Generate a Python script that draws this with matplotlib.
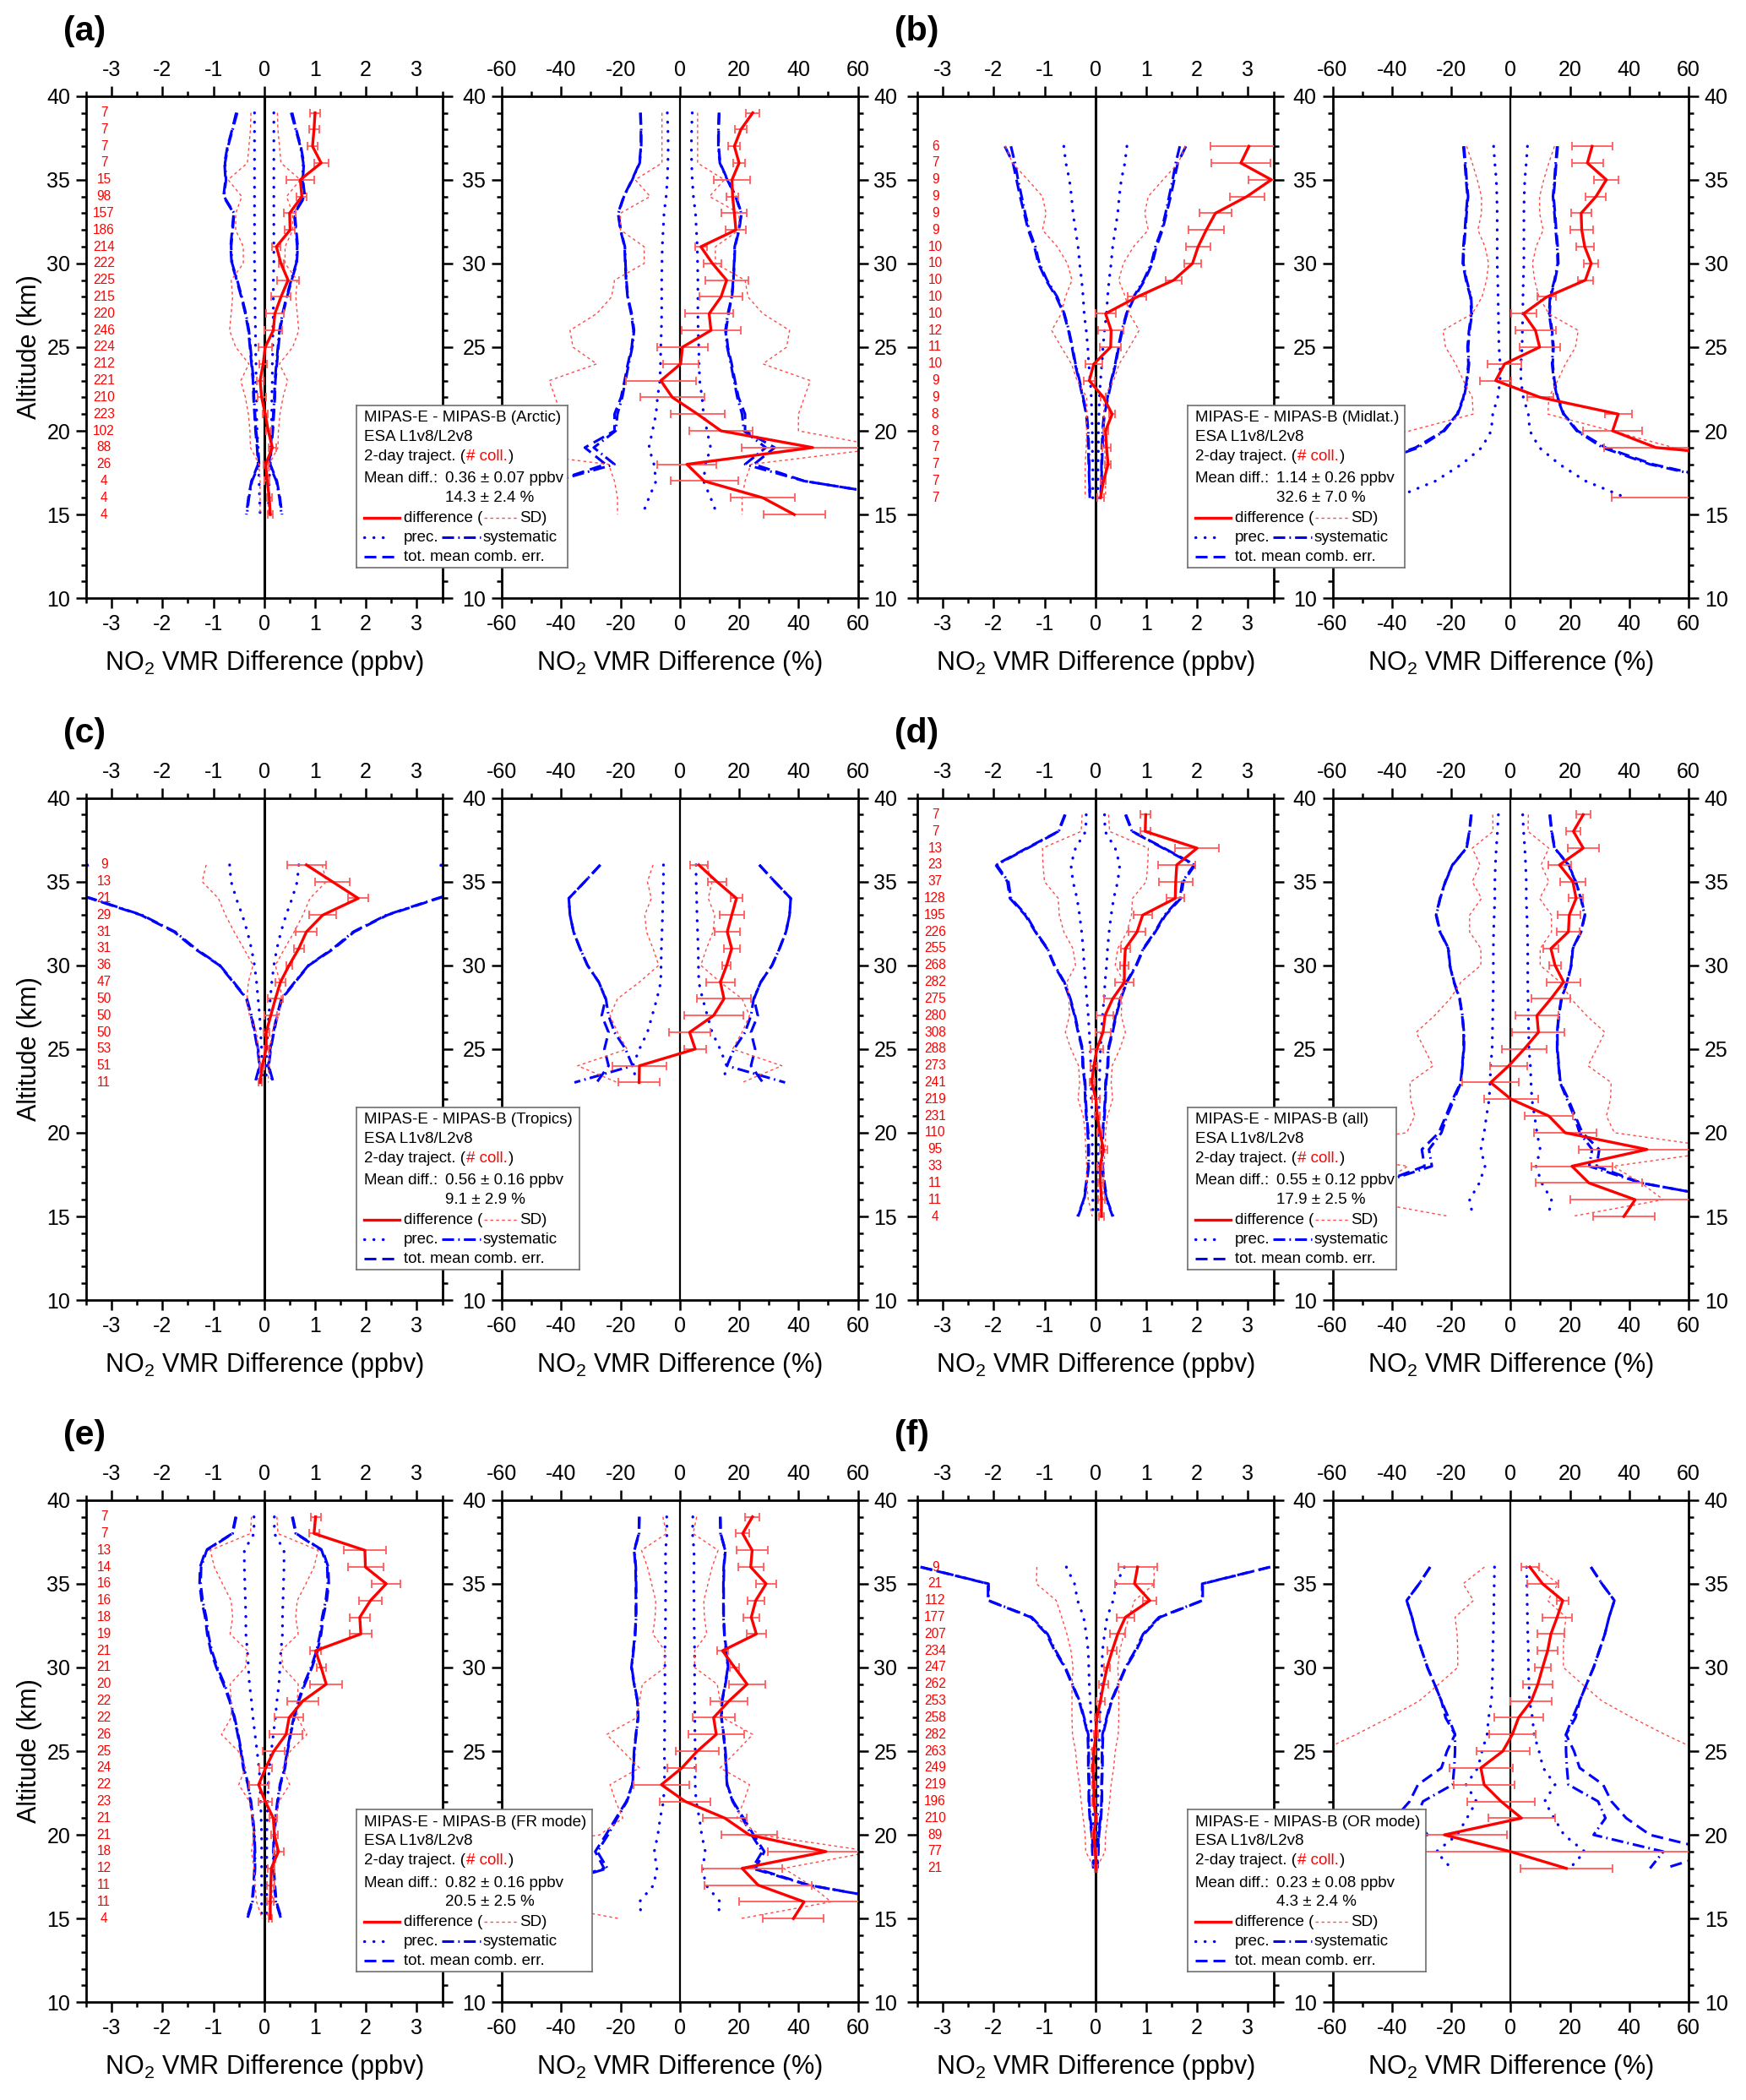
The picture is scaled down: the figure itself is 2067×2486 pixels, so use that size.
import numpy as np
import matplotlib
matplotlib.use("Agg")
import matplotlib.pyplot as plt
from matplotlib.ticker import MultipleLocator

plt.rcParams["font.family"] = ["Liberation Sans", "DejaVu Sans"]
plt.rcParams["mathtext.default"] = "regular"
plt.rcParams["axes.unicode_minus"] = False

W, H, DPI = 2067, 2486, 100

# ---------------- (a) Arctic ----------------
alt_a = [39, 38, 37, 36, 35, 34, 33, 32, 31, 30, 29, 28, 27, 26, 25, 24, 23, 22, 21, 20, 19, 18, 17, 16, 15]
n_a = [7, 7, 7, 7, 15, 98, 157, 186, 214, 222, 225, 215, 220, 246, 224, 212, 221, 210, 223, 102, 88, 26, 4, 4, 4]
diff_ppbv_a = [1.00, 0.98, 0.95, 1.12, 0.71, 0.74, 0.50, 0.51, 0.24, 0.33, 0.47, 0.33, 0.21, 0.18, 0.02, -0.02, -0.08, -0.05, 0.02, 0.08, 0.16, 0.03, 0.06, 0.10, 0.12]
err_ppbv_a = [0.10, 0.10, 0.10, 0.14, 0.27, 0.10, 0.12, 0.10, 0.08, 0.05, 0.21, 0.19, 0.18, 0.18, 0.13, 0.07, 0.06, 0.08, 0.05, 0.05, 0.08, 0.05, 0.05, 0.05, 0.05]
sd_ppbv_a = [0.26, 0.27, 0.30, 0.33, 0.71, 0.44, 0.56, 0.56, 0.41, 0.41, 0.65, 0.62, 0.65, 0.68, 0.56, 0.30, 0.46, 0.37, 0.31, 0.28, 0.27, 0.10, 0.08, 0.08, 0.08]
prec_ppbv_a = [0.19, 0.19, 0.19, 0.19, 0.19, 0.19, 0.19, 0.19, 0.19, 0.19, 0.18, 0.18, 0.18, 0.17, 0.17, 0.16, 0.16, 0.15, 0.15, 0.14, 0.12, 0.11, 0.10, 0.09, 0.08]
sys_ppbv_a = [0.53, 0.62, 0.71, 0.77, 0.75, 0.79, 0.59, 0.62, 0.65, 0.63, 0.53, 0.44, 0.36, 0.30, 0.27, 0.24, 0.21, 0.20, 0.18, 0.16, 0.12, 0.10, 0.24, 0.30, 0.34]
tot_ppbv_a = [0.55, 0.63, 0.72, 0.78, 0.76, 0.80, 0.60, 0.63, 0.66, 0.64, 0.54, 0.45, 0.37, 0.31, 0.28, 0.25, 0.22, 0.21, 0.19, 0.17, 0.14, 0.12, 0.25, 0.31, 0.35]
diff_pct_a = [24.6, 20.6, 18.4, 20.0, 17.6, 17.8, 18.4, 18.9, 7.1, 11.0, 15.8, 13.9, 9.9, 10.5, 0.9, 0.3, -6.4, -2.5, 6.0, 13.9, 44.8, 2.4, 8.2, 28.0, 38.6]
err_pct_a = [2.3, 2.0, 2.0, 2.0, 6.2, 2.0, 4.3, 3.5, 2.0, 3.0, 7.2, 7.3, 8.0, 10.0, 8.6, 6.0, 11.8, 10.7, 9.1, 10.7, 24.0, 9.9, 11.4, 10.9, 10.4]
sd_pct_a = [6, 6, 6, 6, 15, 10, 20, 20, 12, 12, 22, 23, 28, 37, 36, 28, 44, 42, 40, 40, 70, 24, 22, 21, 21]
prec_pct_a = [4.2, 4.0, 3.9, 4.0, 4.2, 4.6, 5.3, 5.6, 5.9, 6.0, 6.1, 6.1, 6.1, 6.2, 6.4, 6.5, 6.7, 7.5, 8.0, 9.2, 10.4, 8.7, 8.0, 10.4, 12.6]
sys_pct_a = [13.2, 13.0, 13.0, 13.5, 16.0, 18.8, 20.7, 19.9, 18.5, 18.3, 18.0, 17.5, 16.2, 15.4, 16.0, 17.2, 18.3, 19.4, 21.0, 21.6, 29.0, 22.0, 42.0, 77.0, 95.0]
tot_pct_a = [13.3, 13.1, 13.1, 13.6, 16.1, 18.9, 20.8, 20.0, 18.6, 18.4, 18.1, 17.6, 16.4, 15.6, 16.2, 17.5, 18.6, 19.8, 22.0, 22.0, 32.0, 25.0, 42.0, 77.0, 95.0]

# ---------------- (b) Midlatitudes ----------------
alt_b = [37, 36, 35, 34, 33, 32, 31, 30, 29, 28, 27, 26, 25, 24, 23, 22, 21, 20, 19, 18, 17, 16]
n_b = [6, 7, 9, 9, 9, 9, 10, 10, 10, 10, 10, 12, 11, 10, 9, 9, 8, 8, 7, 7, 7, 7]
diff_ppbv_b = [3.02, 2.86, 3.46, 2.98, 2.36, 2.18, 2.02, 1.91, 1.54, 0.82, 0.20, 0.31, 0.30, -0.03, -0.12, 0.16, 0.33, 0.20, 0.22, 0.25, 0.16, 0.10]
err_ppbv_b = [0.75, 0.58, 0.45, 0.34, 0.32, 0.35, 0.24, 0.17, 0.15, 0.18, 0.20, 0.25, 0.21, 0.17, 0.11, 0.05, 0.06, 0.05, 0.08, 0.06, 0.05, 0.07]
sd_ppbv_b = [1.77, 1.63, 1.33, 1.04, 0.97, 1.04, 0.75, 0.55, 0.46, 0.59, 0.67, 0.86, 0.67, 0.47, 0.36, 0.17, 0.17, 0.17, 0.18, 0.20, 0.20, 0.20]
prec_ppbv_b = [0.62, 0.58, 0.51, 0.47, 0.44, 0.39, 0.34, 0.31, 0.27, 0.24, 0.22, 0.18, 0.15, 0.13, 0.10, 0.08, 0.07, 0.06, 0.06, 0.05, 0.05, 0.05]
sys_ppbv_b = [1.66, 1.58, 1.52, 1.45, 1.38, 1.30, 1.18, 1.10, 0.95, 0.75, 0.61, 0.52, 0.45, 0.39, 0.31, 0.24, 0.17, 0.14, 0.13, 0.12, 0.12, 0.10]
tot_ppbv_b = [1.78, 1.62, 1.55, 1.48, 1.40, 1.32, 1.20, 1.12, 0.97, 0.77, 0.62, 0.53, 0.46, 0.40, 0.32, 0.25, 0.18, 0.15, 0.14, 0.13, 0.12, 0.11]
diff_pct_b = [27.5, 25.9, 32.3, 28.8, 23.8, 24.0, 25.0, 27.2, 25.2, 12.2, 4.4, 8.4, 9.8, -2.0, -5.0, 10.0, 36.3, 34.4, 49.0, 110.0, 95.0, 70.0]
err_pct_b = [6.8, 5.3, 4.2, 3.4, 3.4, 3.9, 3.0, 2.4, 2.5, 3.1, 4.3, 6.8, 6.8, 5.7, 5.3, 4.4, 4.6, 10.0, 17.4, 30.0, 30.0, 36.0]
sd_pct_b = [14.8, 12.9, 11.2, 9.8, 9.8, 11.0, 8.6, 7.4, 8.1, 9.6, 12.9, 22.8, 21.9, 18.5, 15.9, 12.9, 12.6, 34.0, 55.0, 75.0, 80.0, 80.0]
prec_pct_b = [5.7, 5.3, 4.8, 4.6, 4.5, 4.5, 4.5, 4.5, 4.3, 4.2, 4.1, 4.0, 3.9, 3.5, 3.5, 4.3, 6.0, 6.5, 9.7, 16.5, 25.3, 39.0]
sys_pct_b = [15.7, 15.2, 14.8, 14.3, 14.8, 15.2, 15.7, 15.9, 14.8, 13.3, 13.0, 13.8, 14.3, 14.0, 14.6, 15.7, 17.8, 22.3, 31.0, 47.0, 72.0, 90.0]
tot_pct_b = [15.9, 15.4, 15.0, 14.5, 15.0, 15.4, 15.9, 16.1, 15.0, 13.5, 13.2, 14.0, 14.5, 14.2, 14.8, 15.9, 18.0, 22.6, 32.0, 48.0, 73.0, 92.0]

# ---------------- (c) Tropics ----------------
alt_c = [36, 35, 34, 33, 32, 31, 30, 29, 28, 27, 26, 25, 24, 23]
n_c = [9, 13, 21, 29, 31, 31, 36, 47, 50, 50, 50, 53, 51, 11]
diff_ppbv_c = [0.83, 1.34, 1.85, 1.15, 0.83, 0.68, 0.49, 0.32, 0.22, 0.13, 0.04, 0.04, -0.04, -0.08]
err_ppbv_c = [0.38, 0.34, 0.20, 0.26, 0.21, 0.10, 0.06, 0.10, 0.15, 0.12, 0.06, 0.04, 0.04, 0.04]
sd_ppbv_c = [1.14, 1.22, 0.90, 0.76, 0.59, 0.40, 0.22, 0.31, 0.34, 0.29, 0.15, 0.12, 0.09, 0.08]
prec_ppbv_c = [0.68, 0.65, 0.55, 0.43, 0.33, 0.25, 0.19, 0.15, 0.12, 0.09, 0.07, 0.05, 0.04, 0.04]
sys_ppbv_c = [3.45, 4.50, 3.40, 2.40, 1.75, 1.35, 0.87, 0.60, 0.34, 0.25, 0.18, 0.12, 0.08, 0.17]
tot_ppbv_c = [3.47, 4.50, 3.42, 2.42, 1.77, 1.37, 0.88, 0.61, 0.35, 0.26, 0.19, 0.13, 0.09, 0.18]
diff_pct_c = [6.4, 12.5, 19.1, 17.5, 16.0, 17.5, 15.8, 13.7, 14.9, 11.4, 3.3, 5.2, -13.6, -13.7]
err_pct_c = [3.0, 3.1, 2.0, 4.1, 4.2, 2.7, 1.4, 4.9, 9.2, 9.9, 7.0, 3.8, 9.1, 7.0]
sd_pct_c = [9.0, 10.9, 9.6, 11.8, 11.2, 9.0, 7.1, 13.6, 21.0, 23.5, 21.0, 17.8, 34.4, 21.0]
prec_pct_c = [5.5, 5.5, 5.7, 5.8, 6.0, 6.2, 6.3, 6.4, 7.7, 9.3, 10.9, 13.6, 15.8, 14.6]
sys_pct_c = [26.8, 32.0, 37.4, 37.0, 35.8, 33.6, 31.1, 27.3, 24.9, 24.0, 22.0, 18.3, 15.9, 35.5]
tot_pct_c = [26.8, 32.0, 37.4, 37.0, 35.8, 33.6, 31.1, 27.3, 25.0, 26.3, 24.0, 25.4, 24.0, 28.0]

# ---------------- (d) all ----------------
alt_d = [39, 38, 37, 36, 35, 34, 33, 32, 31, 30, 29, 28, 27, 26, 25, 24, 23, 22, 21, 20, 19, 18, 17, 16, 15]
n_d = [7, 7, 13, 23, 37, 128, 195, 226, 255, 268, 282, 275, 280, 308, 288, 273, 241, 219, 231, 110, 95, 33, 11, 11, 4]
diff_ppbv_d = [0.99, 0.98, 2.00, 1.60, 1.58, 1.57, 0.93, 0.82, 0.59, 0.57, 0.57, 0.34, 0.19, 0.15, 0.03, -0.03, -0.07, 0.01, 0.04, 0.09, 0.16, 0.09, 0.10, 0.12, 0.12]
err_ppbv_d = [0.10, 0.10, 0.43, 0.36, 0.33, 0.17, 0.18, 0.17, 0.09, 0.08, 0.18, 0.17, 0.17, 0.15, 0.12, 0.07, 0.05, 0.08, 0.05, 0.05, 0.07, 0.05, 0.05, 0.06, 0.05]
sd_ppbv_d = [0.26, 0.28, 1.04, 1.03, 1.00, 0.73, 0.71, 0.62, 0.44, 0.39, 0.56, 0.52, 0.51, 0.59, 0.48, 0.33, 0.31, 0.34, 0.24, 0.20, 0.19, 0.17, 0.17, 0.14, 0.06]
prec_ppbv_d = [0.18, 0.19, 0.39, 0.48, 0.44, 0.36, 0.31, 0.27, 0.24, 0.22, 0.19, 0.17, 0.14, 0.12, 0.10, 0.09, 0.08, 0.08, 0.06, 0.06, 0.06, 0.05, 0.05, 0.05, 0.05]
sys_ppbv_d = [0.59, 0.72, 1.33, 1.94, 1.71, 1.66, 1.36, 1.17, 0.94, 0.80, 0.61, 0.49, 0.40, 0.33, 0.25, 0.24, 0.20, 0.19, 0.17, 0.14, 0.13, 0.13, 0.17, 0.22, 0.34]
tot_ppbv_d = [0.60, 0.73, 1.35, 1.96, 1.73, 1.68, 1.38, 1.18, 0.95, 0.81, 0.62, 0.50, 0.41, 0.34, 0.26, 0.25, 0.21, 0.20, 0.18, 0.15, 0.14, 0.14, 0.18, 0.23, 0.35]
diff_pct_d = [24.5, 21.2, 24.5, 16.5, 21.0, 22.1, 19.8, 19.5, 13.6, 15.0, 17.9, 13.6, 8.9, 9.4, 4.6, -0.6, -6.7, 0.2, 12.9, 18.4, 46.0, 20.7, 26.4, 42.0, 38.2]
err_pct_d = [2.4, 2.4, 5.3, 3.8, 4.2, 2.4, 3.9, 3.8, 2.5, 2.1, 5.7, 6.5, 7.3, 8.8, 7.6, 6.2, 9.5, 9.0, 8.1, 10.5, 23.0, 13.7, 18.0, 21.8, 10.3]
sd_pct_d = [6.0, 5.9, 12.9, 10.3, 12.9, 9.8, 13.8, 13.8, 10.0, 10.0, 16.7, 20.4, 25.6, 31.8, 29.0, 26.1, 33.9, 33.7, 32.3, 35.0, 75.0, 34.6, 44.0, 51.5, 20.6]
prec_pct_d = [4.1, 4.4, 4.8, 5.1, 5.3, 5.3, 5.5, 5.7, 5.8, 5.8, 5.8, 5.9, 6.0, 6.1, 6.2, 6.7, 6.9, 7.2, 8.1, 8.9, 10.0, 8.6, 10.5, 13.8, 12.7]
sys_pct_d = [13.2, 13.8, 14.8, 19.5, 21.9, 23.7, 25.0, 23.7, 20.9, 20.4, 19.0, 17.1, 16.2, 15.7, 15.7, 16.2, 16.7, 19.0, 21.4, 23.3, 27.5, 26.5, 44.0, 75.0, 90.0]
tot_pct_d = [13.3, 13.9, 14.9, 19.6, 22.0, 23.8, 25.1, 23.8, 21.0, 20.5, 19.1, 17.2, 16.3, 15.8, 15.8, 16.3, 16.8, 19.5, 21.8, 24.2, 29.9, 29.0, 44.0, 75.0, 90.0]

# ---------------- (e) FR mode ----------------
alt_e = [39, 38, 37, 36, 35, 34, 33, 32, 31, 30, 29, 28, 27, 26, 25, 24, 23, 22, 21, 20, 19, 18, 17, 16, 15]
n_e = [7, 7, 13, 14, 16, 16, 18, 19, 21, 21, 20, 22, 22, 26, 25, 24, 22, 23, 21, 21, 18, 12, 11, 11, 4]
diff_ppbv_e = [1.01, 0.98, 1.98, 1.99, 2.40, 2.09, 1.88, 1.90, 1.01, 1.12, 1.22, 0.76, 0.49, 0.43, 0.19, 0.03, -0.11, 0.02, 0.18, 0.20, 0.28, 0.14, 0.13, 0.12, 0.12]
err_ppbv_e = [0.10, 0.10, 0.42, 0.35, 0.28, 0.22, 0.20, 0.22, 0.11, 0.09, 0.32, 0.30, 0.28, 0.32, 0.22, 0.12, 0.19, 0.13, 0.07, 0.07, 0.10, 0.07, 0.08, 0.06, 0.04]
sd_ppbv_e = [0.25, 0.27, 1.06, 0.98, 0.82, 0.65, 0.62, 0.67, 0.33, 0.37, 0.67, 0.65, 0.65, 0.84, 0.51, 0.37, 0.50, 0.29, 0.23, 0.20, 0.25, 0.20, 0.18, 0.15, 0.04]
prec_ppbv_e = [0.20, 0.20, 0.39, 0.39, 0.38, 0.37, 0.36, 0.36, 0.33, 0.31, 0.29, 0.25, 0.22, 0.18, 0.14, 0.10, 0.08, 0.07, 0.06, 0.05, 0.05, 0.05, 0.05, 0.05, 0.05]
sys_ppbv_e = [0.55, 0.62, 1.13, 1.24, 1.25, 1.21, 1.14, 1.10, 1.03, 0.92, 0.78, 0.67, 0.58, 0.51, 0.45, 0.40, 0.31, 0.26, 0.22, 0.19, 0.18, 0.18, 0.20, 0.23, 0.33]
tot_ppbv_e = [0.56, 0.63, 1.15, 1.26, 1.27, 1.23, 1.16, 1.12, 1.05, 0.94, 0.80, 0.68, 0.59, 0.52, 0.46, 0.41, 0.32, 0.27, 0.23, 0.20, 0.19, 0.19, 0.21, 0.24, 0.34]
diff_pct_e = [24.5, 21.2, 24.4, 23.9, 29.1, 25.6, 24.1, 25.8, 14.4, 18.5, 22.7, 16.6, 11.4, 12.3, 5.9, 0.7, -6.2, 1.8, 15.2, 23.4, 49.3, 21.0, 26.4, 41.9, 38.3]
err_pct_e = [2.4, 2.2, 5.3, 4.3, 3.5, 2.8, 2.7, 3.2, 1.9, 1.6, 6.2, 6.2, 7.1, 9.4, 7.2, 4.8, 9.3, 8.6, 7.5, 9.5, 19.5, 13.6, 18.0, 22.0, 10.3]
sd_pct_e = [5.7, 4.5, 12.9, 10.9, 9.5, 8.1, 8.3, 9.1, 5.0, 5.0, 12.6, 13.6, 14.5, 24.6, 19.2, 13.6, 23.5, 21.6, 19.2, 27.0, 65.0, 35.0, 44.0, 51.0, 20.5]
prec_pct_e = [4.4, 4.3, 4.8, 4.8, 4.7, 4.8, 4.8, 4.9, 5.0, 5.0, 5.0, 5.0, 5.1, 5.1, 5.2, 5.1, 5.2, 5.5, 6.6, 7.4, 8.6, 7.7, 8.8, 13.6, 12.8]
sys_pct_e = [13.6, 13.7, 15.3, 14.8, 14.7, 14.7, 14.7, 15.0, 15.6, 16.2, 15.3, 14.2, 14.0, 14.7, 15.3, 15.6, 15.9, 17.8, 21.1, 24.2, 27.8, 24.4, 43.3, 75.0, 90.0]
tot_pct_e = [13.7, 13.8, 15.4, 14.9, 14.8, 14.8, 14.8, 15.1, 15.7, 16.3, 15.4, 14.3, 14.1, 14.8, 15.4, 15.7, 16.0, 18.0, 21.5, 24.9, 28.5, 25.5, 43.5, 75.0, 90.0]

# ---------------- (f) OR mode ----------------
alt_f = [36, 35, 34, 33, 32, 31, 30, 29, 28, 27, 26, 25, 24, 23, 22, 21, 20, 19, 18]
n_f = [9, 21, 112, 177, 207, 234, 247, 262, 253, 258, 282, 263, 249, 219, 196, 210, 89, 77, 21]
diff_ppbv_f = [0.83, 0.77, 1.07, 0.59, 0.44, 0.33, 0.23, 0.16, 0.10, 0.03, 0.01, -0.03, -0.05, -0.03, -0.03, 0.01, -0.03, 0.00, 0.01]
err_ppbv_f = [0.38, 0.38, 0.13, 0.17, 0.15, 0.09, 0.06, 0.09, 0.08, 0.05, 0.04, 0.03, 0.03, 0.03, 0.03, 0.03, 0.03, 0.03, 0.03]
sd_ppbv_f = [1.15, 1.16, 0.77, 0.66, 0.56, 0.48, 0.44, 0.46, 0.46, 0.46, 0.45, 0.39, 0.36, 0.31, 0.28, 0.24, 0.20, 0.19, 0.02]
prec_ppbv_f = [0.57, 0.41, 0.35, 0.23, 0.18, 0.14, 0.13, 0.12, 0.10, 0.09, 0.08, 0.06, 0.06, 0.05, 0.05, 0.04, 0.04, 0.03, 0.03]
sys_ppbv_f = [3.43, 2.10, 2.10, 1.25, 0.94, 0.78, 0.59, 0.45, 0.31, 0.22, 0.14, 0.13, 0.13, 0.12, 0.12, 0.10, 0.06, 0.05, 0.03]
tot_ppbv_f = [3.44, 2.11, 2.11, 1.27, 0.96, 0.80, 0.60, 0.46, 0.32, 0.23, 0.15, 0.14, 0.14, 0.13, 0.13, 0.11, 0.07, 0.06, 0.04]
diff_pct_f = [6.5, 10.8, 17.6, 15.7, 13.6, 12.5, 10.8, 9.2, 7.0, 2.7, 0.6, -2.6, -10.0, -8.9, -3.2, 3.7, -22.3, 0.0, 18.8]
err_pct_f = [3.0, 5.3, 2.0, 5.0, 4.5, 3.4, 2.7, 4.9, 7.0, 8.2, 7.9, 9.0, 10.7, 10.2, 11.3, 11.3, 21.0, 70.0, 15.5]
sd_pct_f = [8.8, 16.0, 12.5, 18.7, 18.0, 17.8, 17.8, 24.2, 30.8, 41.0, 52.0, 64.0, 70.0, 75.0, 80.0, 80.0, 85.0, 90.0, 90.0]
prec_pct_f = [5.4, 5.5, 5.6, 5.7, 5.8, 6.0, 6.0, 6.2, 6.4, 7.4, 7.9, 9.6, 11.0, 15.0, 11.5, 14.7, 18.0, 25.0, 20.0]
sys_pct_f = [27.1, 30.8, 35.0, 33.2, 31.8, 29.9, 28.0, 25.6, 23.3, 20.9, 18.7, 18.7, 19.0, 19.5, 29.5, 32.0, 28.0, 51.5, 47.0]
tot_pct_f = [27.1, 30.8, 35.0, 33.2, 31.8, 29.9, 28.0, 25.6, 23.3, 21.9, 18.7, 21.4, 23.3, 31.2, 34.0, 39.0, 47.0, 70.0, 52.0]

# legend texts
regions = ["Arctic", "Midlat.", "Tropics", "all", "FR mode", "OR mode"]
mean_ppbv = ["0.36 \u00b1 0.07 ppbv", "1.14 \u00b1 0.26 ppbv", "0.56 \u00b1 0.16 ppbv",
             "0.55 \u00b1 0.12 ppbv", "0.82 \u00b1 0.16 ppbv", "0.23 \u00b1 0.08 ppbv"]
mean_pct = ["14.3 \u00b1 2.4 %", "32.6 \u00b1 7.0 %", "9.1 \u00b1 2.9 %",
            "17.9 \u00b1 2.5 %", "20.5 \u00b1 2.5 %", "4.3 \u00b1 2.4 %"]
letters = ["(a)", "(b)", "(c)", "(d)", "(e)", "(f)"]

panels = [
    dict(alt=alt_a, n=n_a, ppbv=(diff_ppbv_a, err_ppbv_a, sd_ppbv_a, prec_ppbv_a, sys_ppbv_a, tot_ppbv_a),
         pct=(diff_pct_a, err_pct_a, sd_pct_a, prec_pct_a, sys_pct_a, tot_pct_a)),
    dict(alt=alt_b, n=n_b, ppbv=(diff_ppbv_b, err_ppbv_b, sd_ppbv_b, prec_ppbv_b, sys_ppbv_b, tot_ppbv_b),
         pct=(diff_pct_b, err_pct_b, sd_pct_b, prec_pct_b, sys_pct_b, tot_pct_b)),
    dict(alt=alt_c, n=n_c, ppbv=(diff_ppbv_c, err_ppbv_c, sd_ppbv_c, prec_ppbv_c, sys_ppbv_c, tot_ppbv_c),
         pct=(diff_pct_c, err_pct_c, sd_pct_c, prec_pct_c, sys_pct_c, tot_pct_c)),
    dict(alt=alt_d, n=n_d, ppbv=(diff_ppbv_d, err_ppbv_d, sd_ppbv_d, prec_ppbv_d, sys_ppbv_d, tot_ppbv_d),
         pct=(diff_pct_d, err_pct_d, sd_pct_d, prec_pct_d, sys_pct_d, tot_pct_d)),
    dict(alt=alt_e, n=n_e, ppbv=(diff_ppbv_e, err_ppbv_e, sd_ppbv_e, prec_ppbv_e, sys_ppbv_e, tot_ppbv_e),
         pct=(diff_pct_e, err_pct_e, sd_pct_e, prec_pct_e, sys_pct_e, tot_pct_e)),
    dict(alt=alt_f, n=n_f, ppbv=(diff_ppbv_f, err_ppbv_f, sd_ppbv_f, prec_ppbv_f, sys_ppbv_f, tot_ppbv_f),
         pct=(diff_pct_f, err_pct_f, sd_pct_f, prec_pct_f, sys_pct_f, tot_pct_f)),
]

BLUE = "#0000ff"
RED = "#ff0000"
SD_RED = "#ff4a4a"
ERR_RED = "#ff5a5a"
LS_DOT = (0, (0.1, 3.2))
LS_DASHDOT = (0, (4.6, 1.6, 0.6, 1.6))
LS_DASH = (0, (4.6, 2.3))
LS_SD = (0, (2.5, 2.5))

# layout in pixels
COLS = [102, 594, 1086, 1577.5]
ROWS = [113.7, 944.6, 1775.8]
AX_W, AX_H = 421.5, 594.5
LEG_W = [250, 257, 264, 247, 279, 282]
LEG_H = 192


def rect(x0, y0, w, h):
    return [x0 / W, 1 - (y0 + h) / H, w / W, h / H]


def style_axes(ax, xmax, major, minor, labelleft, labelright):
    ax.set_xlim(-xmax, xmax)
    ax.set_ylim(10, 40)
    ax.xaxis.set_major_locator(MultipleLocator(major))
    ax.xaxis.set_minor_locator(MultipleLocator(minor))
    ax.yaxis.set_major_locator(MultipleLocator(5))
    ax.yaxis.set_minor_locator(MultipleLocator(1))
    ax.tick_params(which="both", direction="out", top=True, right=True,
                   width=1.8, labelsize=18)
    ax.tick_params(which="major", length=8.5)
    ax.tick_params(which="minor", length=4.5)
    ax.tick_params(axis="x", labeltop=True, pad=5)
    ax.tick_params(axis="y", labelleft=labelleft, labelright=labelright, pad=5)
    for s in ax.spines.values():
        s.set_linewidth(2.0)


def draw_profile(ax, alt, data, lw_zero):
    diff, err, sd, prec, sys_, tot = [np.asarray(v, dtype=float) for v in data]
    alt = np.asarray(alt, dtype=float)
    for sgn in (-1, 1):
        ax.plot(sgn * tot, alt, color=BLUE, lw=2.2, ls=LS_DASH)
        ax.plot(sgn * sys_, alt, color=BLUE, lw=2.2, ls=LS_DASHDOT)
        ax.plot(sgn * prec, alt, color=BLUE, lw=2.4, ls=LS_DOT, dash_capstyle="round")
        ax.plot(sgn * sd, alt, color=SD_RED, lw=1.0, ls=LS_SD)
    ax.axvline(0, color="black", lw=lw_zero, zorder=1.5)
    ax.errorbar(diff, alt, xerr=err, fmt="none", ecolor=ERR_RED,
                elinewidth=1.3, capsize=3.5, capthick=1.3, zorder=3)
    ax.plot(diff, alt, color=RED, lw=2.4, zorder=4)


def draw_legend(fig, x0, y0, w, k):
    ax = fig.add_axes(rect(x0, y0, w, LEG_H))
    ax.set_zorder(10)
    ax.set_xlim(0, w)
    ax.set_ylim(LEG_H, 0)
    ax.set_xticks([])
    ax.set_yticks([])
    ax.set_facecolor("white")
    for s in ax.spines.values():
        s.set_linewidth(1.2)
        s.set_edgecolor("#6e6e6e")
    fs = 13.5
    ax.text(9, 14.7, "MIPAS-E - MIPAS-B (" + regions[k] + ")", fontsize=fs, va="center")
    ax.text(9, 37.6, "ESA L1v8/L2v8", fontsize=fs, va="center")
    t = ax.text(9, 60.5, "2-day traject. (", fontsize=fs, va="center")
    t2 = ax.annotate("# coll.", xy=(1, 0), xycoords=t, xytext=(0.6, 0),
                     textcoords="offset points", va="bottom", ha="left",
                     fontsize=fs, color=RED)
    ax.annotate(")", xy=(1, 0), xycoords=t2, xytext=(0.6, 0),
                textcoords="offset points", va="bottom", ha="left", fontsize=fs)
    t = ax.text(9, 86.7, "Mean diff.:", fontsize=fs, va="center")
    v1 = ax.annotate(mean_ppbv[k], xy=(1, 0), xycoords=t, xytext=(6, 0),
                     textcoords="offset points", va="bottom", ha="left", fontsize=fs)
    ax.annotate(mean_pct[k], xy=(0, 0), xycoords=v1, xytext=(0, -(109.6 - 86.7) * 0.72),
                textcoords="offset points", va="bottom", ha="left", fontsize=fs)
    ax.plot([9, 51], [133, 133], color=RED, lw=2.4)
    ax.text(56, 133, "difference (", fontsize=fs, va="center")
    ax.plot([151, 191], [133, 133], color=SD_RED, lw=1.0, ls=LS_SD)
    ax.text(193, 133, "SD)", fontsize=fs, va="center")
    ax.plot([9, 41], [156, 156], color=BLUE, lw=2.4, ls=LS_DOT, dash_capstyle="round")
    ax.text(56, 156, "prec.", fontsize=fs, va="center")
    ax.plot([101, 147], [156, 156], color=BLUE, lw=2.2, ls=LS_DASHDOT)
    ax.text(150, 156, "systematic", fontsize=fs, va="center")
    ax.plot([9, 51], [179, 179], color=BLUE, lw=2.2, ls=LS_DASH)
    ax.text(56, 179, "tot. mean comb. err.", fontsize=fs, va="center")


fig = plt.figure(figsize=(W / DPI, H / DPI), dpi=DPI)
pct_axes = []

for k, p in enumerate(panels):
    row, pair = divmod(k, 2)
    xl = COLS[2 * pair]
    xr = COLS[2 * pair + 1]
    yt = ROWS[row]

    ax1 = fig.add_axes(rect(xl, yt, AX_W, AX_H))
    style_axes(ax1, 3.5, 1, 0.5, labelleft=(pair == 0), labelright=False)
    draw_profile(ax1, p["alt"], p["ppbv"], lw_zero=2.2)
    for z, n in zip(p["alt"], p["n"]):
        ax1.text(-3.15, z, str(n), color=RED, fontsize=11.2, ha="center", va="center")
    ax1.set_xlabel("NO$_2$ VMR Difference (ppbv)", fontsize=22, labelpad=12)
    if pair == 0:
        ax1.set_ylabel("Altitude (km)", fontsize=22, labelpad=4)

    ax2 = fig.add_axes(rect(xr, yt, AX_W, AX_H))
    style_axes(ax2, 60, 20, 10, labelleft=True, labelright=True)
    draw_profile(ax2, p["alt"], p["pct"], lw_zero=1.6)
    ax2.set_xlabel("NO$_2$ VMR Difference (%)", fontsize=22, labelpad=12)
    pct_axes.append(ax2)

    draw_legend(fig, xl + 320, yt + 366.5, LEG_W[k], k)

    fig.text((xl - 27) / W, 1 - (yt - 77) / H, letters[k], fontsize=29.5,
             fontweight="bold", ha="left", va="center")

# the legend boxes hide the left-hand 15 and 20 km labels of the % panels
fig.canvas.draw()
for ax2 in pct_axes:
    for tick in ax2.yaxis.get_major_ticks():
        if round(tick.get_loc()) in (15, 20):
            tick.label1.set_visible(False)

fig.savefig("out.png", dpi=DPI)
